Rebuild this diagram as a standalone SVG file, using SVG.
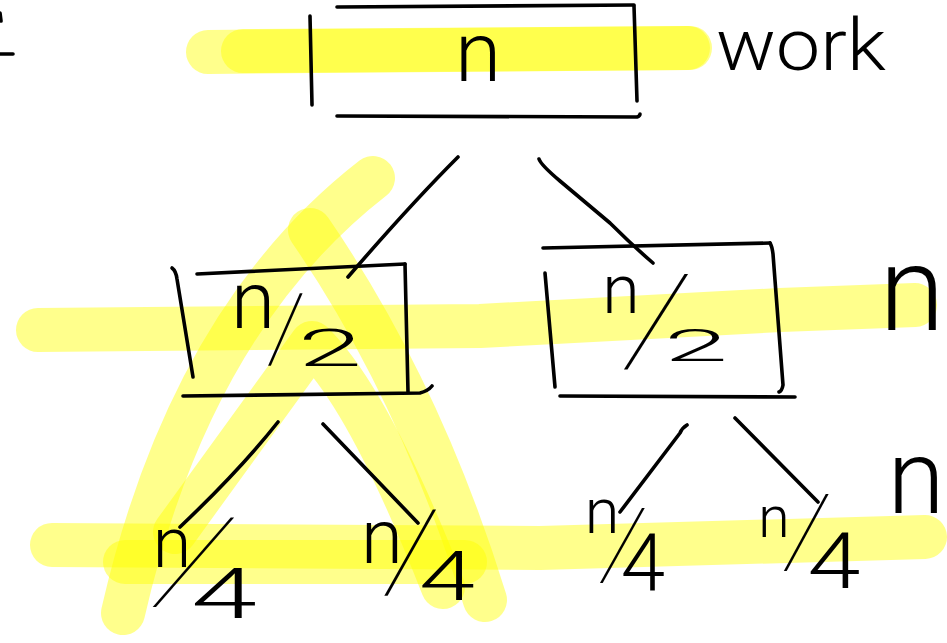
<svg xmlns="http://www.w3.org/2000/svg" width="947" height="643" viewBox="0 0 947 643">
  <style>
    .hl { fill: none; stroke: #ffff00; stroke-opacity: 0.45; stroke-linecap: round; stroke-linejoin: round; stroke-width: 44; }
    .ink { fill: none; stroke: #000; stroke-width: 3.6; stroke-linecap: round; stroke-linejoin: round; }
    .hw { font-family: "Roboto", "Liberation Sans", sans-serif; font-weight: 300; fill: #000; text-anchor: middle; }
    .hw-start { font-family: "Roboto", "Liberation Sans", sans-serif; font-weight: 300; fill: #000; text-anchor: start; }
    .sl { font-family: "Roboto", "Liberation Sans", sans-serif; font-weight: 100; fill: #000; text-anchor: middle; }
  </style>

  <!-- highlighter strokes -->
  <g id="highlights">
    <path class="hl" d="M208,52 L688,48"/>
    <path class="hl" stroke-width="42" d="M243,51 L690,48"/>
    <path class="hl" d="M38,330 L480,326 L780,310 L915,305"/>
    <path class="hl" d="M52,545 L540,548 L925,537"/>
    <path class="hl" stroke-width="38" d="M125,562 L465,562"/>
    <path class="hl" d="M373,178 Q190,320 123,613"/>
    <path class="hl" d="M310,230 Q420,390 485,600"/>
    <path class="hl" stroke-width="42" d="M175,532 L312,343 Q370,400 443,587"/>
  </g>

  <!-- fragment at the left edge -->
  <path class="ink" d="M0,54 L13,54 M0,13 L1,21"/>

  <!-- tree edges -->
  <g id="connectors">
    <path class="ink" d="M458,157 Q410,205 348,277"/>
    <path class="ink" d="M539,159 Q541,165 560,181 L610,223 Q632,245 653,263"/>
    <path class="ink" d="M278,422 Q240,470 180,527"/>
    <path class="ink" d="M323,424 L418,523"/>
    <path class="ink" d="M687,425 Q682,428 680,433 L620,512"/>
    <path class="ink" d="M735,418 L818,502"/>
  </g>

  <!-- root: n -->
  <g id="node-root">
    <path class="ink" d="M310,16 L312,105"/>
    <path class="ink" d="M337,7 L634,5"/>
    <path class="ink" d="M634,6 L637,101"/>
    <path class="ink" d="M337,116 L637,117 Q640,116 640,114"/>
    <text class="hw" x="478" y="81" font-size="84">n</text>
  </g>

  <g id="label-work">
    <text class="hw-start" x="716" y="70" font-size="72" textLength="170" lengthAdjust="spacingAndGlyphs">work</text>
  </g>

  <!-- level 1, left: n/2 -->
  <g id="node-half-left">
    <path class="ink" d="M172,268 Q176,271 177,279 L193,377"/>
    <path class="ink" d="M197,274 L405,264"/>
    <path class="ink" d="M405,264 L408,392"/>
    <path class="ink" d="M183,396 L420,393 Q428,391 432,386"/>
    <text class="hw" x="253" y="328" font-size="80">n</text>
    <text class="sl" transform="translate(286,330) skewX(-3)" x="0" y="30" font-size="94">/</text>
    <text class="hw" x="330" y="366" font-size="52" textLength="64" lengthAdjust="spacingAndGlyphs">2</text>
  </g>

  <!-- level 1, right: n/2 -->
  <g id="node-half-right">
    <path class="ink" d="M543,248 L770,243"/>
    <path class="ink" d="M770,243 Q772,246 773,254 L783,385 Q782,391 779,392"/>
    <path class="ink" d="M545,273 L555,387"/>
    <path class="ink" d="M560,396 L795,397"/>
    <text class="hw" x="621" y="313" font-size="68">n</text>
    <text class="sl" transform="translate(657,322) skewX(-14)" x="0" y="40" font-size="124">/</text>
    <text class="hw" x="696" y="361" font-size="44" textLength="64" lengthAdjust="spacingAndGlyphs">2</text>
  </g>

  <g id="label-level1">
    <text class="hw" x="912" y="330" font-size="119">n</text>
  </g>

  <!-- level 2: four n/4 leaves -->
  <g id="leaf-1">
    <text class="hw" x="172" y="567" font-size="70">n</text>
    <text class="sl" transform="translate(194,563) skewX(-26)" x="0" y="37" font-size="116">/</text>
    <text class="hw" x="224" y="618" font-size="70" textLength="66" lengthAdjust="spacingAndGlyphs">4</text>
  </g>
  <g id="leaf-2">
    <text class="hw" x="382" y="563" font-size="76">n</text>
    <text class="sl" transform="translate(411,553) skewX(-10)" x="0" y="36" font-size="112">/</text>
    <text class="hw" x="447" y="600" font-size="68" textLength="56" lengthAdjust="spacingAndGlyphs">4</text>
  </g>
  <g id="leaf-3">
    <text class="hw" x="602" y="533" font-size="63">n</text>
    <text class="sl" transform="translate(623,546) skewX(-10)" x="0" y="31" font-size="97">/</text>
    <text class="hw" x="643" y="590" font-size="80">4</text>
  </g>
  <g id="leaf-4">
    <text class="hw" x="774" y="537" font-size="57">n</text>
    <text class="sl" transform="translate(807,533) skewX(-9)" x="0" y="32" font-size="100">/</text>
    <text class="hw" x="834" y="588" font-size="77" textLength="53" lengthAdjust="spacingAndGlyphs">4</text>
  </g>

  <g id="label-level2">
    <text class="hw" x="916" y="513" font-size="104">n</text>
  </g>
</svg>
